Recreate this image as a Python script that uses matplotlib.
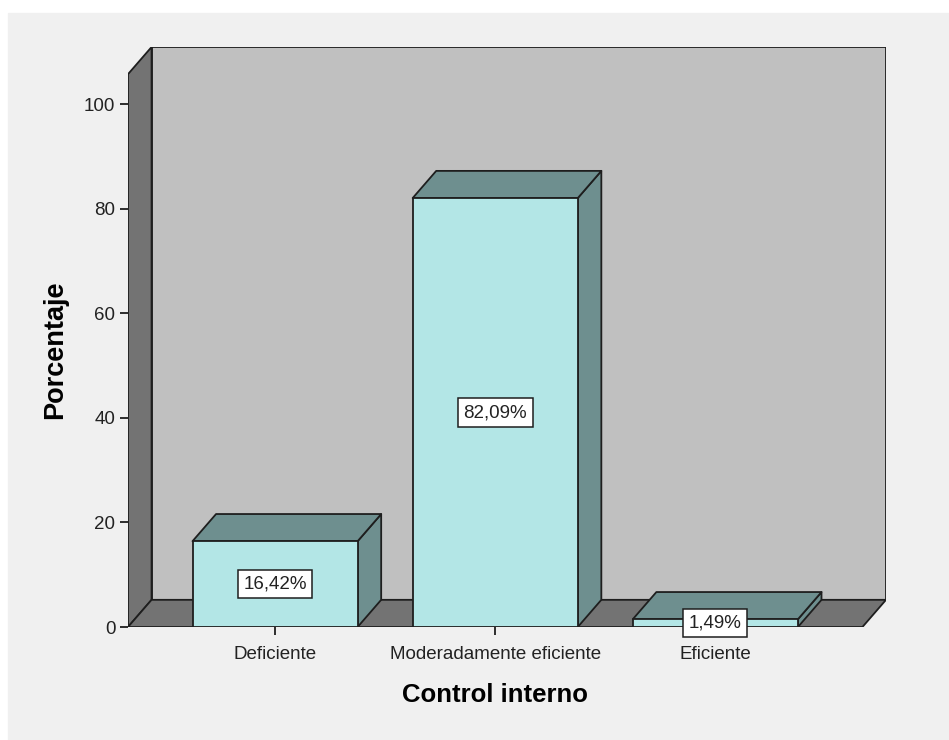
import matplotlib.pyplot as plt
from matplotlib.patches import Polygon, Rectangle

plt.rcParams['font.family'] = ['Liberation Sans', 'DejaVu Sans']

categories = ["Deficiente", "Moderadamente eficiente", "Eficiente"]
porcentajes = [16.42, 82.09, 1.49]
etiquetas = ["16,42%", "82,09%", "1,49%"]
yticks = [0, 20, 40, 60, 80, 100]

# colours taken from the SPSS-like reference
BG = "#f0f0f0"
WALL_BACK = "#c0c0c0"
WALL_SIDE = "#737373"
BAR_FRONT = "#b3e6e6"
BAR_SHADE = "#6e8f8f"
EDGE = "#1e1e1e"

# 3D depth in data units
DX, DY = 0.107, 5.2
BAR_W = 0.75
X0, X1 = -0.668, 2.668
WALL_H = 105.8

fig = plt.figure(figsize=(9.49, 7.40), dpi=100, facecolor="white")
fig.patches.append(Rectangle((8 / 949, 0), 1, (740 - 13) / 740,
                             transform=fig.transFigure, color=BG, zorder=-5))

ax = fig.add_axes([128 / 949, (740 - 627) / 740, (886 - 128) / 949, (627 - 47) / 740])
ax.set_facecolor("none")
ax.set_xlim(X0, X1 + DX)
ax.set_ylim(0, WALL_H + DY)
for s in ax.spines.values():
    s.set_visible(False)


def poly(pts, color, z):
    ax.add_patch(Polygon(pts, closed=True, facecolor=color, edgecolor=EDGE,
                         linewidth=1.3, joinstyle="round", zorder=z))


# back wall, left wall and floor
poly([(X0 + DX, DY), (X1 + DX, DY), (X1 + DX, WALL_H + DY), (X0 + DX, WALL_H + DY)], WALL_BACK, 1)
poly([(X0, 0), (X0 + DX, DY), (X0 + DX, WALL_H + DY), (X0, WALL_H)], WALL_SIDE, 2)
poly([(X0, 0), (X1, 0), (X1 + DX, DY), (X0 + DX, DY)], WALL_SIDE, 2)

# bars
for i, v in enumerate(porcentajes):
    l, r = i - BAR_W / 2, i + BAR_W / 2
    poly([(r, 0), (r + DX, DY), (r + DX, v + DY), (r, v)], BAR_SHADE, 3)
    poly([(l, v), (r, v), (r + DX, v + DY), (l + DX, v + DY)], BAR_SHADE, 3)
    poly([(l, 0), (r, 0), (r, v), (l, v)], BAR_FRONT, 4)
    ax.text(i, v / 2, etiquetas[i], ha="center", va="center", fontsize=13.5, zorder=6,
            color="#222222",
            bbox=dict(boxstyle="square,pad=0.3", facecolor="white", edgecolor=EDGE, linewidth=1.1))

ax.set_xticks(range(len(categories)))
ax.set_xticklabels(categories, fontsize=13.5, color="#222222")
ax.set_yticks(yticks)
ax.set_yticklabels([str(t) for t in yticks], fontsize=13.5, color="#222222")
ax.tick_params(axis="both", direction="out", length=6, width=1.3, color=EDGE)
ax.tick_params(axis="x", pad=8)
ax.tick_params(axis="y", pad=3)

ax.set_xlabel("Control interno", fontsize=18.5, fontweight="bold")
ax.set_ylabel("Porcentaje", fontsize=19.5, fontweight="bold")
ax.xaxis.set_label_coords(0.484, -0.096)
ax.yaxis.set_label_coords(-0.079, 0.478)

fig.savefig("out.png", dpi=100, facecolor=fig.get_facecolor())
